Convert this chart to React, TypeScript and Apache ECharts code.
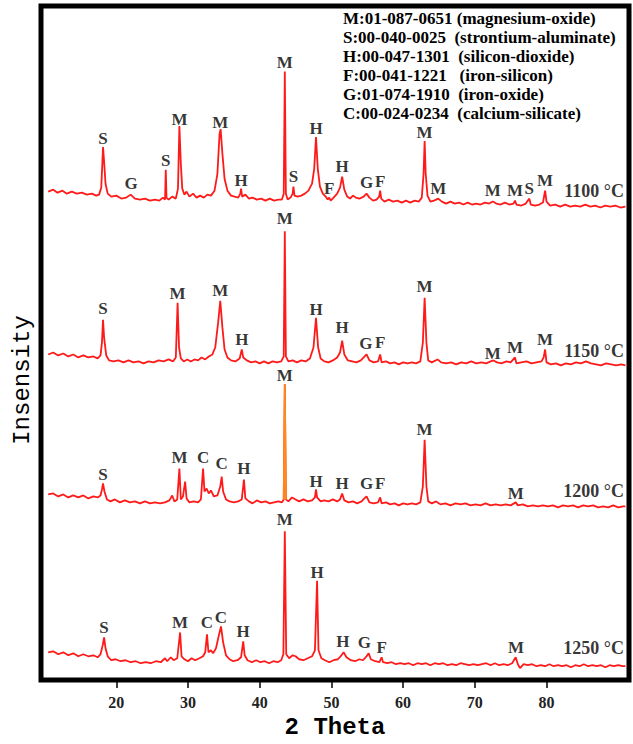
import React, { useEffect, useRef } from "react";
import * as echarts from "echarts";

// 2θ (degrees) vs intensity (arbitrary units, stacked patterns)
const T1100: number[][] = [[10.5,492],[11.2,494],[11.8,491],[12.5,493],[13.1,490],[13.8,492],[14.5,490],[15.2,491],[15.9,489],[16.6,490],[17.2,488],[17.6,489],[17.9,496],[18.05,520],[18.15,537],[18.3,522],[18.5,500],[18.8,490],[19.3,487],[20,488],[20.7,485],[21.4,486],[22.0,489],[22.6,485],[23.3,484],[24,485],[24.7,483],[25.4,484],[26.0,483],[26.5,486],[26.8,484],[26.9,514],[27.0,486],[27.3,484],[27.8,487],[28.3,485],[28.6,495],[28.8,558],[29.0,520],[29.2,495],[29.5,489],[29.8,492],[30.2,487],[30.7,490],[31.2,486],[31.7,488],[32.2,486],[32.7,489],[33.2,488],[33.7,493],[34.1,510],[34.4,550],[34.55,555],[34.8,530],[35.1,505],[35.5,493],[36,488],[36.5,487],[37.0,486],[37.3,490],[37.4,495],[37.55,487],[38,489],[38.5,485],[39,486],[39.6,484],[40.2,485],[40.8,483],[41.4,485],[42,483],[42.6,484],[43.1,484],[43.35,490],[43.5,613],[43.65,490],[43.9,484],[44.3,486],[44.6,490],[44.7,497],[44.85,488],[45.3,487],[45.8,488],[46.3,490],[46.8,493],[47.3,500],[47.6,515],[47.85,547],[48.1,515],[48.4,497],[48.8,490],[49.2,487],[49.5,484],[49.7,486],[49.9,483],[50.3,486],[50.8,490],[51.2,496],[51.5,507],[51.8,494],[52.2,487],[52.6,485],[53.0,488],[53.4,486],[53.9,485],[54.5,487],[54.9,490],[55.3,486],[55.8,483],[56.3,484],[56.65,487],[56.8,493],[56.95,485],[57.4,482],[58,484],[58.6,482],[59.2,483],[59.8,481],[60.4,483],[61,481],[61.6,483],[62.2,482],[62.6,486],[62.85,510],[63.0,543],[63.15,510],[63.4,488],[63.8,482],[64.3,483],[64.9,485],[65.4,482],[66,480],[66.6,482],[67.2,480],[67.8,481],[68.4,479],[69,481],[69.6,479],[70.2,480],[70.8,479],[71.4,481],[72,480],[72.5,482],[73,480],[73.6,479],[74.2,481],[74.8,479],[75.4,480],[75.6,483],[75.8,479],[76.5,478],[77.1,480],[77.6,485],[77.8,479],[78.4,478],[79,479],[79.5,481],[79.8,493],[80.0,482],[80.5,478],[81.2,479],[81.9,477],[82.6,479],[83.3,477],[84,478],[84.7,477],[85.4,479],[86.1,477],[86.8,478],[87.5,476],[88.2,478],[88.9,477],[89.6,478],[90.3,476],[91,477]];

const T1150: number[][] = [[10.5,328],[11.2,330],[11.9,327],[12.6,329],[13.3,326],[14,328],[14.7,325],[15.4,327],[16.1,325],[16.8,326],[17.4,324],[17.8,327],[18.0,340],[18.15,363],[18.3,345],[18.6,327],[19,322],[19.6,321],[20.3,322],[21,320],[21.7,322],[22.4,320],[23.1,321],[23.8,319],[24.5,321],[25.2,320],[25.9,322],[26.6,321],[27.3,323],[27.9,321],[28.3,325],[28.55,380],[28.75,335],[29,324],[29.4,321],[29.9,323],[30.4,321],[30.9,323],[31.4,322],[31.9,325],[32.4,323],[32.9,326],[33.4,328],[33.8,335],[34.2,360],[34.5,382],[34.8,355],[35.1,333],[35.5,325],[36,322],[36.6,321],[37.2,324],[37.5,333],[37.7,325],[38.2,322],[38.8,320],[39.4,321],[40,319],[40.6,321],[41.2,319],[41.8,321],[42.4,320],[43,321],[43.35,326],[43.5,452],[43.65,326],[44,321],[44.6,322],[45.2,320],[45.8,322],[46.4,321],[47,324],[47.5,335],[47.85,365],[48.15,335],[48.5,324],[49,321],[49.6,320],[50.2,322],[50.8,325],[51.2,330],[51.5,342],[51.8,328],[52.3,322],[52.9,321],[53.5,320],[54.1,322],[54.5,325],[54.9,328],[55.3,322],[55.9,320],[56.5,321],[56.8,328],[57.0,320],[57.6,321],[58.2,319],[58.8,320],[59.4,318],[60,320],[60.6,319],[61.2,320],[61.8,319],[62.4,321],[62.75,340],[63.0,385],[63.25,340],[63.5,322],[64,320],[64.8,323],[65.3,320],[66,319],[66.7,320],[67.4,318],[68.1,320],[68.8,319],[69.5,321],[70.2,319],[70.9,320],[71.6,319],[72.2,321],[72.6,322],[73.1,320],[73.7,319],[74.4,321],[75,320],[75.6,325],[75.8,319],[76.5,320],[77.2,321],[77.9,319],[78.6,320],[79.3,321],[79.6,325],[79.8,333],[80.0,320],[80.6,318],[81.3,319],[82,317],[82.7,319],[83.4,318],[84.1,320],[84.8,319],[85.5,321],[86.2,319],[86.9,318],[87.6,317],[88.3,319],[89,318],[89.7,317],[90.4,318],[91,317]];

const T1200: number[][] = [[10.5,187],[11.2,188],[11.9,185],[12.6,187],[13.3,184],[14,186],[14.7,184],[15.4,186],[16.1,183],[16.8,185],[17.4,184],[17.8,186],[18.0,192],[18.15,198],[18.35,190],[18.7,182],[19.2,180],[19.8,182],[20.5,179],[21.2,181],[21.9,179],[22.6,180],[23.3,178],[24,180],[24.7,178],[25.4,179],[26.1,178],[26.8,179],[27.4,181],[27.8,186],[28.1,180],[28.5,182],[28.8,213],[29.0,182],[29.3,185],[29.6,200],[29.8,183],[30.2,179],[30.8,180],[31.4,179],[31.8,182],[32.1,213],[32.3,190],[32.6,193],[32.9,188],[33.2,191],[33.6,185],[34.1,186],[34.5,195],[34.7,205],[34.9,190],[35.3,182],[35.8,180],[36.4,179],[37,180],[37.5,182],[37.8,202],[38.0,183],[38.5,180],[39,178],[39.6,181],[40.2,179],[40.8,180],[41.4,178],[42,179],[42.6,180],[43.1,179],[43.35,182],[43.5,298],[43.65,182],[44,180],[44.5,184],[45,182],[45.5,180],[46.1,182],[46.7,180],[47.3,181],[47.7,184],[47.85,192],[48.0,184],[48.5,180],[49,181],[49.6,180],[50.2,182],[50.8,180],[51.2,182],[51.5,188],[51.8,181],[52.4,179],[53,180],[53.6,178],[54.2,180],[54.6,183],[54.9,185],[55.3,179],[55.9,178],[56.5,179],[56.8,184],[57.0,178],[57.6,179],[58.2,177],[58.8,178],[59.4,176],[60,178],[60.6,177],[61.2,178],[61.8,177],[62.4,179],[62.75,195],[63.0,242],[63.25,195],[63.5,180],[64,178],[64.6,180],[65.2,177],[65.9,178],[66.6,176],[67.3,178],[68,177],[68.7,178],[69.4,176],[70.1,177],[70.8,176],[71.5,178],[72.2,176],[72.9,177],[73.6,176],[74.3,177],[75,176],[75.7,179],[76,176],[76.7,177],[77.4,175],[78.1,176],[78.8,175],[79.5,176],[80.2,175],[80.9,176],[81.6,174],[82.3,176],[83,175],[83.7,176],[84.4,174],[85.1,176],[85.8,175],[86.5,176],[87.2,174],[87.9,175],[88.6,174],[89.3,176],[90,174],[90.7,175],[91,175]];

const T1250: number[][] = [[10.5,28],[11.2,29],[11.9,26],[12.6,28],[13.3,25],[14,27],[14.7,24],[15.4,26],[16.1,24],[16.8,25],[17.4,23],[17.8,26],[18.1,35],[18.3,43],[18.5,32],[18.8,24],[19.3,20],[19.9,21],[20.6,19],[21.3,20],[22,18],[22.7,19],[23.4,17],[24.1,18],[24.8,17],[25.5,19],[26.2,18],[26.8,22],[27.1,19],[27.6,23],[28,20],[28.5,22],[28.9,48],[29.1,24],[29.5,21],[30,19],[30.5,22],[31,20],[31.6,22],[32.1,24],[32.4,28],[32.65,46],[32.85,28],[33.2,30],[33.5,27],[33.9,32],[34.3,45],[34.6,54],[34.9,38],[35.3,25],[35.8,21],[36.3,19],[36.9,20],[37.4,23],[37.7,39],[37.9,25],[38.3,20],[38.9,18],[39.5,20],[40.1,18],[40.7,19],[41.3,17],[41.9,19],[42.5,18],[43,20],[43.3,26],[43.5,150],[43.7,26],[44.1,22],[44.6,25],[45.0,24],[45.5,21],[46.1,20],[46.7,22],[47.3,24],[47.7,30],[48.0,100],[48.2,30],[48.6,22],[49.1,20],[49.7,18],[50.3,20],[50.9,21],[51.4,25],[51.7,28],[52.1,23],[52.7,20],[53.3,19],[53.9,21],[54.4,20],[54.9,24],[55.2,27],[55.5,21],[56.1,19],[56.7,18],[57.0,23],[57.2,18],[57.8,17],[58.4,18],[59,16],[59.6,17],[60.2,16],[60.8,17],[61.4,15],[62,17],[62.6,16],[63.2,17],[63.8,15],[64.4,17],[65,16],[65.6,17],[66.2,15],[66.8,16],[67.4,15],[68,17],[68.6,16],[69.2,15],[69.8,16],[70.4,15],[71,16],[71.6,17],[72.2,15],[72.8,17],[73.4,15],[74,16],[74.6,15],[75.2,17],[75.7,23],[76,16],[76.3,12],[76.8,16],[77.4,15],[78,16],[78.6,14],[79.2,15],[79.8,14],[80.4,16],[81,14],[81.6,15],[82.2,14],[82.8,15],[83.4,13],[84,15],[84.6,14],[85.2,16],[85.8,14],[86.4,15],[87,14],[87.6,15],[88.2,13],[88.8,15],[89.4,14],[90,15],[90.6,14],[91,14]];

// peak labels: [phase, 2θ, label height]
const L1100: [string, number, number][] = [["S",18.15,546],["G",22.05,500],["S",26.9,523],["M",28.8,565],["M",34.5,562],["H",37.4,503],["M",43.5,622],["S",44.7,507],["H",47.85,556],["F",49.7,495],["H",51.5,517],["G",54.9,501],["F",56.8,502],["M",63.0,552],["M",64.9,495],["M",72.5,493],["M",75.6,493],["S",77.6,495],["M",79.8,503]];
const L1150: [string, number, number][] = [["S",18.15,374],["M",28.55,389],["M",34.5,392],["H",37.5,343],["M",43.5,465],["H",47.85,373],["H",51.5,355],["G",54.8,339],["F",56.8,340],["M",63.0,396],["M",72.5,329],["M",75.6,335],["M",79.8,343]];
const L1200: [string, number, number][] = [["S",18.15,207],["M",28.8,224],["C",32.1,224],["C",34.7,218],["H",37.8,213],["M",43.5,307],["H",47.85,200],["H",51.5,198],["G",54.9,198],["F",56.8,198],["M",63.0,252],["M",75.7,188]];
const L1250: [string, number, number][] = [["S",18.3,53],["M",28.9,58],["C",32.65,58],["C",34.6,63],["H",37.7,49],["M",43.5,162],["H",48.0,108],["H",51.6,39],["G",54.6,38],["F",57.0,33],["M",75.75,33]];

const TEMPS: [string, number][] = [["1100 °C",493],["1150 °C",331],["1200 °C",190],["1250 °C",32]];
const TEMP_X = 90.8;

const X_TICKS = [20, 30, 40, 50, 60, 70, 80];

const LEGEND_LINES = [
  "M:01-087-0651 (magnesium-oxide)",
  "S:00-040-0025  (strontium-aluminate)",
  "H:00-047-1301  (silicon-dioxide)",
  "F:00-041-1221   (iron-silicon)",
  "G:01-074-1910  (iron-oxide)",
  "C:00-024-0234  (calcium-silicate)",
];

const SERIF = "'Liberation Serif', 'Times New Roman', serif";
const MONO = "'Liberation Mono', 'Courier New', monospace";
const RED = "#ff1a1a";

export default function App() {
  const ref = useRef<HTMLDivElement>(null);
  useEffect(() => {
    if (!ref.current) return;
    const chart = echarts.init(ref.current, null, { renderer: "svg" });
    const traces = [T1100, T1150, T1200, T1250];
    const labels = [...L1100, ...L1150, ...L1200, ...L1250];
    const lineSeries: any[] = traces.map((d) => ({
      type: "line",
      data: d,
      showSymbol: false,
      silent: true,
      lineStyle: { color: RED, width: 1.8 },
      z: 2,
    }));
    const orangePeak = T1200.filter((p) => p[0] >= 43.35 && p[0] <= 43.65);
    lineSeries.push({
      type: "line",
      data: orangePeak,
      showSymbol: false,
      silent: true,
      lineStyle: { color: "#ff8a1a", width: 1.8 },
      z: 3,
    });
    const option: any = {
      animation: false,
      backgroundColor: "#fff",
      grid: {
        left: 41,
        right: 4,
        top: 6,
        bottom: 59,
        show: true,
        borderColor: "#000",
        borderWidth: 5,
        backgroundColor: "#fff",
      },
      xAxis: {
        type: "value",
        min: 9.5,
        max: 91.5,
        axisLine: { show: false },
        splitLine: { show: false },
        axisTick: {
          show: true,
          customValues: X_TICKS,
          length: 8,
          lineStyle: { color: "#000", width: 1.5 },
        },
        axisLabel: {
          customValues: X_TICKS,
          margin: 14,
          color: "#222",
          fontFamily: SERIF,
          fontWeight: "bold",
          fontSize: 16,
        },
        name: "2 Theta",
        nameLocation: "middle",
        nameGap: 33,
        nameTextStyle: {
          fontFamily: MONO,
          fontSize: 24,
          fontWeight: "bold",
          color: "#000",
        },
      },
      yAxis: {
        type: "value",
        min: 0,
        max: 679,
        show: false,
      },
      graphic: [
        {
          type: "text",
          x: 22,
          y: 380,
          rotation: Math.PI / 2,
          style: {
            text: "Insensity",
            fontFamily: MONO,
            fontSize: 24,
            fill: "#000",
            align: "center",
            verticalAlign: "middle",
          },
        },
        ...LEGEND_LINES.map((t, i) => ({
          type: "text",
          x: 343,
          y: 18 + i * 19,
          style: {
            text: t,
            fontFamily: SERIF,
            fontWeight: "bold",
            fontSize: 17,
            fill: "#000",
            align: "left",
            verticalAlign: "middle",
          },
        })),
      ],
      series: [
        ...lineSeries,
        {
          type: "scatter",
          symbolSize: 0,
          silent: true,
          z: 5,
          data: labels.map(([t, x, y]) => ({ name: t, value: [x, y] })),
          label: {
            show: true,
            position: "inside",
            formatter: "{b}",
            color: "#000",
            fontFamily: SERIF,
            fontWeight: "bold",
            fontSize: 17,
          },
        },
        {
          type: "scatter",
          symbolSize: 0,
          silent: true,
          z: 5,
          data: TEMPS.map(([t, y]) => ({ name: t, value: [TEMP_X, y] })),
          label: {
            show: true,
            position: "left",
            distance: 0,
            formatter: "{b}",
            color: "#000",
            fontFamily: SERIF,
            fontWeight: "bold",
            fontSize: 18,
          },
        },
      ],
    };
    chart.setOption(option);
    return () => chart.dispose();
  }, []);
  return (
    <div
      ref={ref}
      style={{ position: "fixed", left: 0, top: 0, width: 633, height: 744 }}
    />
  );
}
